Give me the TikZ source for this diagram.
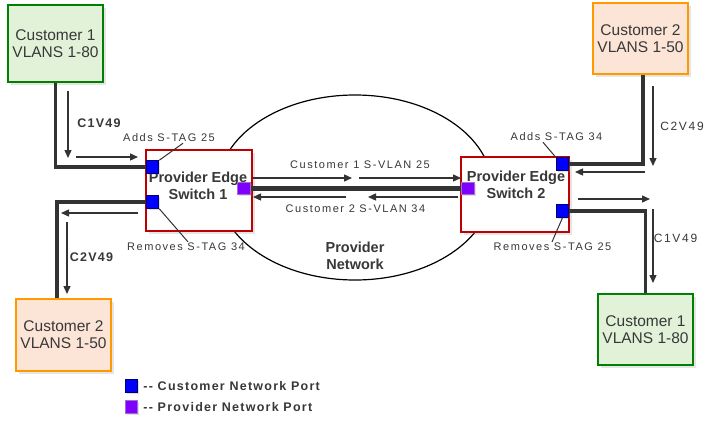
\documentclass[tikz,border=0pt]{standalone}
\usepackage{fontspec}
\setmainfont{Liberation Sans}
\newfontfamily\spacedfont[LetterSpace=10]{Liberation Sans}
\newfontfamily\tagfont[LetterSpace=14]{Liberation Sans}
\usetikzlibrary{arrows.meta}
\usetikzlibrary{shapes.geometric}
\usetikzlibrary{shadows}
\usetikzlibrary{positioning}
\newcommand*{\PortSize}{12.5pt}

\definecolor{custgreen}{RGB}{0,128,0}
\definecolor{custgreenfill}{RGB}{226,242,217}
\definecolor{custorange}{RGB}{255,153,0}
\definecolor{custorangefill}{RGB}{252,228,214}
\definecolor{pered}{RGB}{192,0,0}
\definecolor{linegray}{RGB}{51,51,51}
\definecolor{txtgray}{RGB}{56,56,56}
\definecolor{portblue}{RGB}{0,0,255}
\definecolor{portnavy}{RGB}{0,0,110}
\definecolor{portpurple}{RGB}{128,0,255}
\definecolor{portlilac}{RGB}{160,110,210}

\begin{document}
\begin{tikzpicture}
	[x=1pt,y=-1pt,
	custbox/.style={line width=1.8pt, minimum width=95pt, minimum height=72pt, align=center,
		text=txtgray, font=\fontsize{15.5}{17}\selectfont,
		drop shadow={opacity=0.2, shadow xshift=3pt, shadow yshift=-3pt}},
	greenbox/.style={custbox, draw=custgreen, fill=custgreenfill},
	orangebox/.style={custbox, draw=custorange, fill=custorangefill},
	pebox/.style={draw=pered, line width=1.8pt, fill=white,
		drop shadow={opacity=0.2, shadow xshift=3pt, shadow yshift=-3pt}},
	petext/.style={align=center, text=txtgray, font=\bfseries\fontsize{14.5}{17}\selectfont},
	port/.style={line width=1pt, minimum size=\PortSize, inner sep=0pt,
		drop shadow={opacity=0.25, shadow xshift=1.5pt, shadow yshift=-1.5pt}},
	cport/.style={port, draw=portnavy, fill=portblue},
	pport/.style={port, draw=portlilac, fill=portpurple},
	link/.style={draw=linegray, line width=3.2pt},
	trunk/.style={draw=linegray, line width=5.5pt},
	flow/.style={draw=linegray, line width=1.3pt, -{Triangle[length=8pt,width=7pt]}},
	leader/.style={draw=linegray, line width=1pt},
	tag/.style={text=txtgray, inner sep=1pt, font=\tagfont\fontsize{11}{13}\selectfont},
	vid/.style={tag, font=\tagfont\fontsize{12}{14}\selectfont},
	vidb/.style={tag, font=\spacedfont\bfseries\fontsize{12.5}{14}\selectfont},
	legend/.style={text=txtgray, inner sep=1pt, font=\spacedfont\bfseries\fontsize{12.5}{14}\selectfont}]

	\useasboundingbox[fill=white] (0,0) rectangle (715,431);

	%Provider network
	\node[draw, ellipse, line width=1.2pt, inner sep=0pt, minimum width=274pt, minimum height=185pt] (net) at (355,187.5) {};
	\node[petext] (nett) at (355,256) {Provider\\Network};

	%Customers
	\node[greenbox, minimum height=77pt] (cust1a) at (55.5,43.5) {Customer 1\\VLANS 1-80};
	\node[orangebox] (cust2a) at (63.5,335) {Customer 2\\VLANS 1-50};
	\node[orangebox, minimum height=71pt] (cust2b) at (640.5,38.5) {Customer 2\\VLANS 1-50};
	\node[greenbox, minimum height=71pt] (cust1b) at (645.5,329.5) {Customer 1\\VLANS 1-80};

	%Switches
	\node[pebox, minimum width=106pt, minimum height=81pt] (pe1) at (199,190.5) {};
	\node[petext] (pe1t) at (198,185.5) {Provider Edge\\Switch 1};
	\node[pebox, minimum width=108pt, minimum height=75pt] (pe2) at (515,194.5) {};
	\node[petext] (pe2t) at (516,184.5) {Provider Edge\\Switch 2};

	%Ports
	\node[cport] (p1a) at (152.5,167) {};
	\node[cport] (p1b) at (152.5,202) {};
	\node[pport] (pp1) at (244,188.5) {};
	\node[cport] (p2a) at (562.5,164) {};
	\node[cport] (p2b) at (562.5,211) {};
	\node[pport] (pp2) at (468,188.5) {};

	%Links
	\draw[trunk] (pp1.east) -- (pp2.west);
	\draw[link] (cust1a.south) |- (p1a.west);
	\draw[link] ([xshift=-6.5pt]cust2a.north) |- (p1b.west);
	\draw[link] ([xshift=2.5pt]cust2b.south) |- (p2a.east);
	\draw[link] (cust1b.north) |- (p2b.east);

	%Flows
	\coordinate (f1s) at (68,91);   \coordinate (f1e) at (68,158);
	\coordinate (f2s) at (76,157);  \coordinate (f2e) at (138,157);
	\coordinate (f3s) at (138,213); \coordinate (f3e) at (61,213);
	\coordinate (f4s) at (67,222);  \coordinate (f4e) at (67,294);
	\coordinate (f5s) at (253,178); \coordinate (f5e) at (352,178);
	\coordinate (f6s) at (359,178); \coordinate (f6e) at (461,178);
	\coordinate (f7s) at (346,197); \coordinate (f7e) at (253,197);
	\coordinate (f8s) at (458,197); \coordinate (f8e) at (368,197);
	\coordinate (f9s) at (653,86);  \coordinate (f9e) at (653,166);
	\coordinate (f10s) at (645,172); \coordinate (f10e) at (575,172);
	\coordinate (f11s) at (578,199); \coordinate (f11e) at (650,199);
	\coordinate (f12s) at (653,209); \coordinate (f12e) at (653,283);
	\foreach \f in {1,...,12}
	{
		\draw[flow] (f\f s) -- (f\f e);
	}

	%Labels
	\node[vidb] (c1v49a) at (99,123) {C1V49};
	\node[vidb] (c2v49a) at (91.5,257) {C2V49};
	\node[vid] (c2v49b) at (682,126) {C2V49};
	\node[vid] (c1v49b) at (675.5,238) {C1V49};
	\node[tag] (vlan25) at (360,165) {Customer 1 S-VLAN 25};
	\node[tag] (vlan34) at (355.5,209) {Customer 2 S-VLAN 34};
	\node[tag] (add25) at (169,138) {Adds S-TAG 25};
	\node[tag] (rem34) at (186,247) {Removes S-TAG 34};
	\node[tag] (add34) at (556.5,137) {Adds S-TAG 34};
	\node[tag] (rem25) at (552.5,247) {Removes S-TAG 25};
	\draw[leader] (p1a.north east) -- ([xshift=14pt]add25.south);
	\draw[leader] (p1b.south east) -- ([xshift=2pt]rem34.north);
	\draw[leader] (p2a.north west) -- ([xshift=-13.5pt]add34.south);
	\draw[leader] (p2b.south) -- ([xshift=-0.5pt]rem25.north);

	%Legend
	\node[cport] (lgc) at (131.5,386) {};
	\node[legend, right=4pt of lgc] (lgct) {-{}- Customer Network Port};
	\node[pport] (lgp) at (131.5,407) {};
	\node[legend, right=4pt of lgp] (lgpt) {-{}- Provider Network Port};
\end{tikzpicture}
\end{document}
